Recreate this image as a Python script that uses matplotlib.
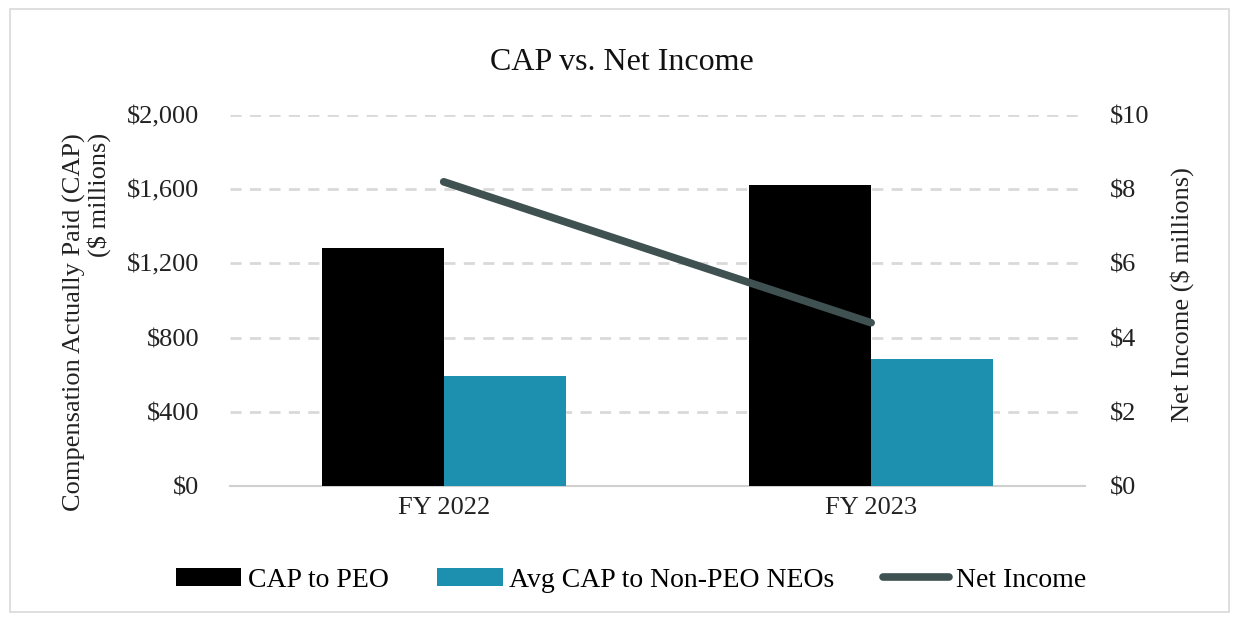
import matplotlib
matplotlib.use("Agg")
import matplotlib.pyplot as plt
import numpy as np
from matplotlib.patches import Rectangle

# data
years = ["FY 2022", "FY 2023"]
cap_peo = [1285, 1623]
cap_non_peo = [592, 685]
net_income = [8.2, 4.4]

plt.rcParams["font.family"] = ["Liberation Serif", "DejaVu Serif"]

peo_color = "#000000"
neo_color = "#1D8FAF"
line_color = "#3F5151"
grid_color = "#D9D9D9"
text_color = "#222222"

fig = plt.figure(figsize=(12.39, 6.21), dpi=100)
ax = fig.add_axes([0.1856, 0.2174, 0.69, 0.5974])
ax2 = ax.twinx()

x = np.arange(len(years))
w = 0.285
b1 = ax.bar(x - w / 2, cap_peo, w, color=peo_color, label="CAP to PEO", zorder=3)
b2 = ax.bar(x + w / 2, cap_non_peo, w, color=neo_color, label="Avg CAP to Non-PEO NEOs", zorder=3)
ln, = ax2.plot(x, net_income, color=line_color, lw=5.5, solid_capstyle="round",
               label="Net Income", zorder=4)

ax.set_xlim(-0.5, 1.5)
ax.set_ylim(0, 2000)
ax.set_yticks(np.arange(0, 2001, 400))
ax.set_yticklabels([f"${v:,}" for v in range(0, 2001, 400)])
ax2.set_ylim(0, 10)
ax2.set_yticks(np.arange(0, 11, 2))
ax2.set_yticklabels([f"${v}" for v in range(0, 11, 2)])
ax.set_xticks(x)
ax.set_xticklabels(years)

for yv in range(400, 2001, 400):
    ax.axhline(yv, color=grid_color, lw=2, ls=(0, (4, 3)), zorder=1)

for a in (ax, ax2):
    for s in a.spines.values():
        s.set_visible(False)
    a.tick_params(length=0, labelsize=19, colors=text_color)
ax.spines["bottom"].set_visible(True)
ax.spines["bottom"].set_color("#D0D0D0")
ax.spines["bottom"].set_linewidth(1.5)
ax.tick_params(axis="y", pad=22)
ax.tick_params(axis="x", pad=8)
ax2.tick_params(axis="y", pad=18)

fig.text(0.0705, 0.4815, "Compensation Actually Paid (CAP)\n($ millions)", rotation=90,
         ha="center", va="center", multialignment="right", fontsize=19,
         color=text_color, linespacing=1.05)
fig.text(0.954, 0.525, "Net Income ($ millions)", rotation=90, ha="center", va="center",
         fontsize=19, color=text_color)

fig.text(0.502, 0.9, "CAP vs. Net Income", ha="center", va="center",
         fontsize=23, color="#111111")

fig.legend(handles=[b1, b2, ln], loc="center", bbox_to_anchor=(0.509, 0.066), ncol=3,
           frameon=False, fontsize=20, handlelength=2.35, handletextpad=0.25,
           columnspacing=1.75, handleheight=0.65)

fig.patches.append(Rectangle((0.008, 0.015), 0.984, 0.97, transform=fig.transFigure,
                             fill=False, edgecolor="#D9D9D9", lw=1.2))

fig.savefig("out.png", dpi=100)
